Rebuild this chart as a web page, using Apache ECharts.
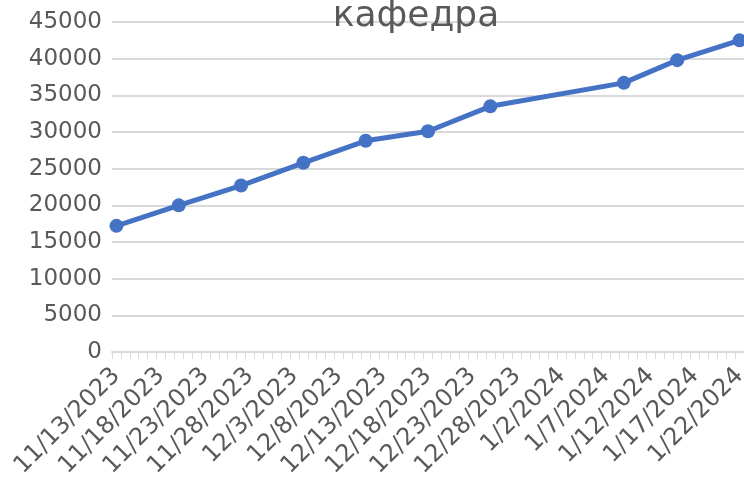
<!DOCTYPE html>
<html>
  <head>
    <meta charset="utf-8">
    <title>кафедра</title>
    <style type="text/css">
    html,body{margin:0;padding:0;background:#fff;}
    #chart{width:744px;height:483px;}
    </style>
    <script src="https://cdn.jsdelivr.net/npm/echarts@6/dist/echarts.min.js"></script>
  </head>
  <body>
    <div id="chart"></div>
    <script type="text/javascript">
      // data
      var dates = ['11/13/2023','11/20/2023','11/27/2023','12/4/2023','12/11/2023',
                   '12/18/2023','12/25/2023','1/9/2024','1/15/2024','1/22/2024'];
      var values = [17200, 20000, 22700, 25800, 28800, 30100, 33500, 36700, 39800, 42500];
      var yTicks = [0, 5000, 10000, 15000, 20000, 25000, 30000, 35000, 40000, 45000];

      // one category per day, like the date axis in the original
      function parseDate(s) {
        var p = s.split('/');
        return new Date(+p[2], +p[0] - 1, +p[1]);
      }
      function fmt(d) {
        return (d.getMonth() + 1) + '/' + d.getDate() + '/' + d.getFullYear();
      }
      var days = [];
      var d = parseDate(dates[0]), end = parseDate(dates[dates.length - 1]);
      while (d <= end) {
        days.push(fmt(d));
        d = new Date(d.getFullYear(), d.getMonth(), d.getDate() + 1);
      }
      var points = dates.map(function (s, i) { return [s, values[i]]; });

      var chart = echarts.init(document.getElementById('chart'));
      var font = 'DejaVu Sans';
      var option = {
        animation: false,
        title: {
          text: 'кафедра',
          left: 411,
          top: -6,
          textAlign: 'center',
          textStyle: {fontFamily: font, fontSize: 36, fontWeight: 'normal', color: '#595959'}
        },
        grid: {left: 112, right: 0, top: 22, bottom: 131, containLabel: false, outerBoundsMode: 'none'},
        xAxis: {
          type: 'category',
          data: days,
          boundaryGap: true,
          axisLine: {show: true, lineStyle: {color: '#d9d9d9', width: 2}},
          axisTick: {show: true, interval: 0, length: 7, lineStyle: {color: '#d9d9d9', width: 1}},
          axisLabel: {
            interval: 4,
            rotate: 45,
            margin: 20,
            fontFamily: font,
            fontSize: 24,
            color: '#595959'
          },
          splitLine: {show: false}
        },
        yAxis: {
          type: 'value',
          min: yTicks[0],
          max: yTicks[yTicks.length - 1],
          interval: yTicks[1] - yTicks[0],
          axisLine: {show: false},
          axisTick: {show: false},
          axisLabel: {
            margin: 10, fontFamily: font, fontSize: 23, color: '#595959',
            formatter: function (v) { return String(v); }
          },
          splitLine: {lineStyle: {color: '#d9d9d9', width: 2}}
        },
        series: [{
          type: 'line',
          data: points,
          symbol: 'circle',
          symbolSize: 14,
          showSymbol: true,
          showAllSymbol: true,
          lineStyle: {color: '#4472c4', width: 5},
          itemStyle: {color: '#4472c4'}
        }]
      };
      chart.setOption(option);
    </script>
  </body>
</html>
